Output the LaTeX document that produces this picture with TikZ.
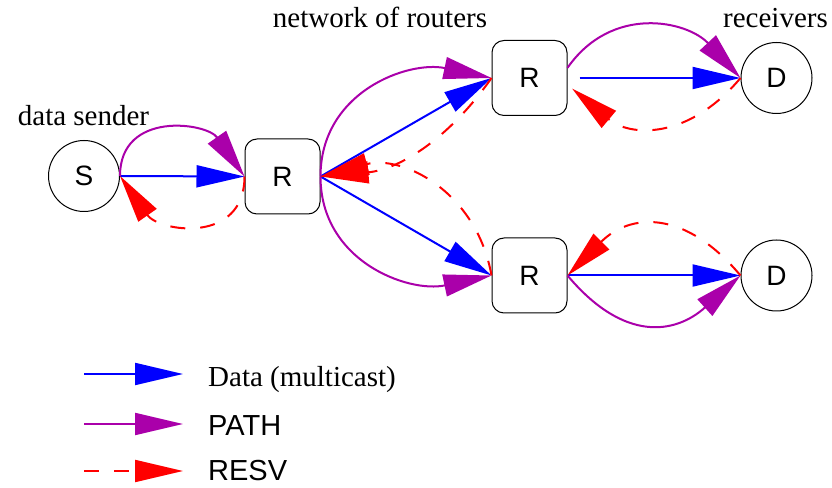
\documentclass[tikz,border=0pt]{standalone}
\usepackage{fontspec}
\setmainfont{Liberation Serif}
\setsansfont{Liberation Sans}
\usetikzlibrary{arrows.meta, calc}
\definecolor{pathcol}{RGB}{170,0,170}

\tikzset{
	bigtip/.style={-{Triangle[length=48pt,width=22pt]}},
	datafl/.style={color=blue, line width=2pt, bigtip},
	pathfl/.style={color=pathcol, line width=2pt, bigtip},
	resvfl/.style={color=red, line width=2pt, dash pattern=on 15pt off 15pt, bigtip},
	host/.style={draw, circle, line width=1pt, minimum size=71pt, inner sep=0pt, font=\sffamily\fontsize{28}{32}\selectfont},
	router/.style={draw, rounded corners=12pt, line width=1pt, minimum size=75pt, inner sep=0pt, font=\sffamily\fontsize{28}{32}\selectfont},
	lbl/.style={inner sep=0pt, font=\fontsize{29}{34}\selectfont},
	lgd/.style={inner sep=0pt, anchor=base west, font=\fontsize{29}{34}\selectfont}
}

\begin{document}
\begin{tikzpicture}[x=1pt, y=1pt]
	\useasboundingbox (0,0) rectangle (832,487);
	% sender, routers, receivers
	\node[host] (S) at (84,311) {S};
	\node[router] (R1) at (282.5,310.5) {R};
	\node[router] (R2) at (529.5,409) {R};
	\node[router] (R3) at (529.5,211.5) {R};
	\node[host] (D1) at (776.5,409) {D};
	\node[host] (D2) at (776.5,211.5) {D};
	\node[lbl, anchor=base] (lblsender) at (83.5,361) {data sender};
	\node[lbl, anchor=base] (lblnet) at (380,459) {network of routers};
	\node[lbl, anchor=base] (lblrecv) at (775.5,459) {receivers};

	% data
	\draw[datafl] (S.east) -- (R1.west);
	\draw[datafl] (R1.east) -- (R2.west);
	\draw[datafl] (R1.east) -- (R3.west);
	\draw[datafl, shorten <=12pt] (R2.east) -- (D1.west);
	\draw[datafl] (R3.east) -- (D2.west);

	% PATH
	\draw[pathfl] (S.east) to[out=90, in=125, looseness=1.35] (R1.west);
	\draw[pathfl] (R1.east) to[out=90, in=168, looseness=1.1] (R2.west);
	\draw[pathfl] (R1.east) to[out=-90, in=-168, looseness=1.1] (R3.west);
	\draw[pathfl] (R2.15) to[out=55, in=133, looseness=1.15] (D1.west);
	\draw[pathfl] (R3.east) to[out=-50, in=-138, looseness=1.3] (D2.west);

	% RESV
	\draw[resvfl] (R1.west) to[out=-90, in=-55, looseness=1.4] (S.east);
	\draw[resvfl] (R2.west) to[out=235, in=5, looseness=1] (R1.east);
	\draw[resvfl] (R3.west) to[out=100, in=15, looseness=1.1] (R1.east);
	\draw[resvfl, shorten >=6pt] (D1.west) to[out=230, in=-40, looseness=1.2] (R2.-10);
	\draw[resvfl] (D2.west) to[out=130, in=45, looseness=1.3] (R3.east);

	% legend
	\coordinate (ga) at (84,113);
	\coordinate (gb) at (84,63);
	\coordinate (gc) at (84,16);
	\node[lgd] (tdata) at (208,100) {Data (multicast)};
	\node[lgd] (tpath) at (208,51) {\sffamily PATH};
	\node[lgd] (tresv) at (208,6) {\sffamily RESV};
	\draw[datafl] (ga) -- +(99,0);
	\draw[pathfl] (gb) -- +(99,0);
	\draw[resvfl] (gc) -- +(99,0);
\end{tikzpicture}
\end{document}
